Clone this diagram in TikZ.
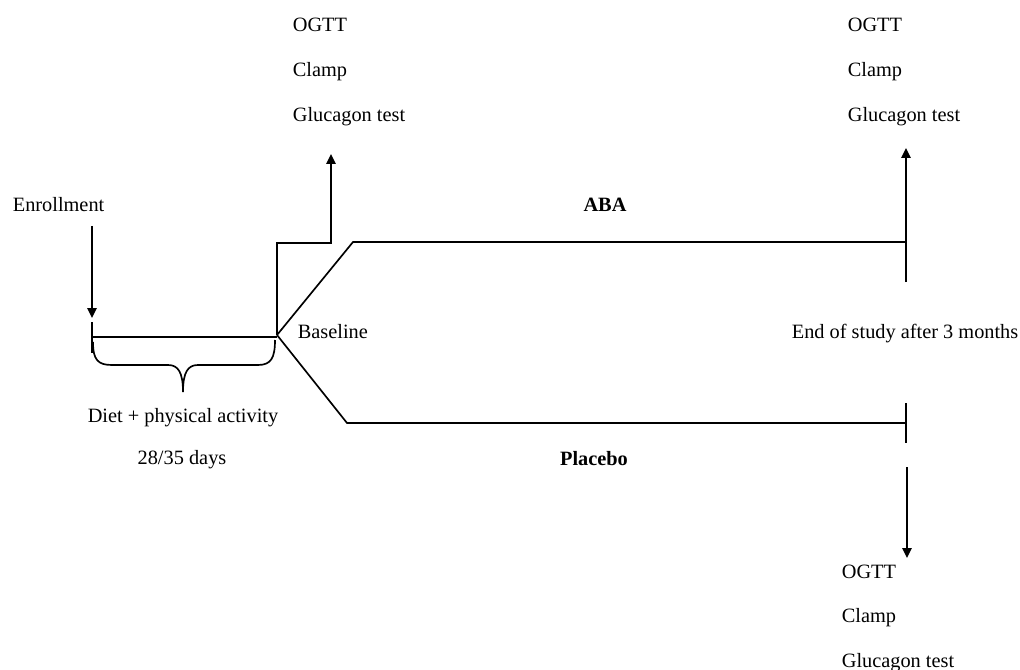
\documentclass[tikz,border=0pt]{standalone}
\usepackage{fontspec}
\setmainfont{Liberation Serif}
\usetikzlibrary{arrows.meta}

\tikzset{
  lbl/.style={inner sep=0pt, anchor=base west},
  lblc/.style={inner sep=0pt, anchor=base},
  arr/.style={-{Triangle[length=6pt,width=5.6pt]}},
}

\begin{document}
\begin{tikzpicture}[x=0.6pt, y=-0.6pt, line width=1pt, font=\fontsize{12.2}{15}\selectfont]
    \useasboundingbox (0,0) rectangle (1020,670);
    % texts
    \node[lbl] (enr) at (12,212) {Enrollment};
    \node[lbl] (base) at (297,338) {Baseline};
    \node[lblc] (diet) at (183,422) {Diet + physical activity};
    \node[lblc] (days) at (182,464) {28/35 days};
    \node[lblc] (aba) at (605,212) {\textbf{ABA}};
    \node[lblc] (plac) at (594,465) {\textbf{Placebo}};
    \node[lbl] (eos) at (791,338) {End of study after 3 months};
    \node[lbl] (ogA) at (292,32) {OGTT};
    \node[lbl] (clA) at (292,77) {Clamp};
    \node[lbl] (glA) at (292,122) {Glucagon test};
    \node[lbl] (ogB) at (847,32) {OGTT};
    \node[lbl] (clB) at (847,77) {Clamp};
    \node[lbl] (glB) at (847,122) {Glucagon test};
    \node[lbl] (ogC) at (841,578) {OGTT};
    \node[lbl] (clC) at (841,622) {Clamp};
    \node[lbl] (glC) at (841,667) {Glucagon test};
    % points of the time line
    \coordinate (e0) at (92,226);
    \coordinate (e1) at (92,318);
    \coordinate (t0) at (92,322);
    \coordinate (t1) at (92,353);
    \coordinate (s) at (92,337);
    \coordinate (j) at (277,335);
    \coordinate (k1) at (277,243);
    \coordinate (k2) at (331,243);
    \coordinate (k3) at (331,154);
    \coordinate (u0) at (353,242);
    \coordinate (u1) at (906,242);
    \coordinate (l0) at (347,423);
    \coordinate (l1) at (906,423);
    \coordinate (r0) at (906,282);
    \coordinate (r1) at (906,148);
    \coordinate (q0) at (906,403);
    \coordinate (q1) at (906,443);
    \coordinate (d0) at (907,467);
    \coordinate (d1) at (907,558);
    % run-in period
    \draw[arr] (e0) -- (e1);
    \draw (t0) -- (t1);
    \draw (s) -- (j |- s);
    \draw (93,342) .. controls (93,360) and (98,365) .. (112,365) -- (168,365)
      .. controls (178,365) and (183,372) .. (183,392)
      .. controls (183,372) and (188,365) .. (198,365) -- (258,365)
      .. controls (271,365) and (275,358) .. (275,340);
    % baseline tests
    \draw[arr] (j) -- (k1) -- (k2) -- (k3);
    % the two arms
    \draw (j) -- (u0) -- (u1);
    \draw (j) -- (l0) -- (l1);
    \draw[arr] (r0) -- (r1);
    \draw (q0) -- (q1);
    \draw[arr] (d0) -- (d1);
\end{tikzpicture}
\end{document}
